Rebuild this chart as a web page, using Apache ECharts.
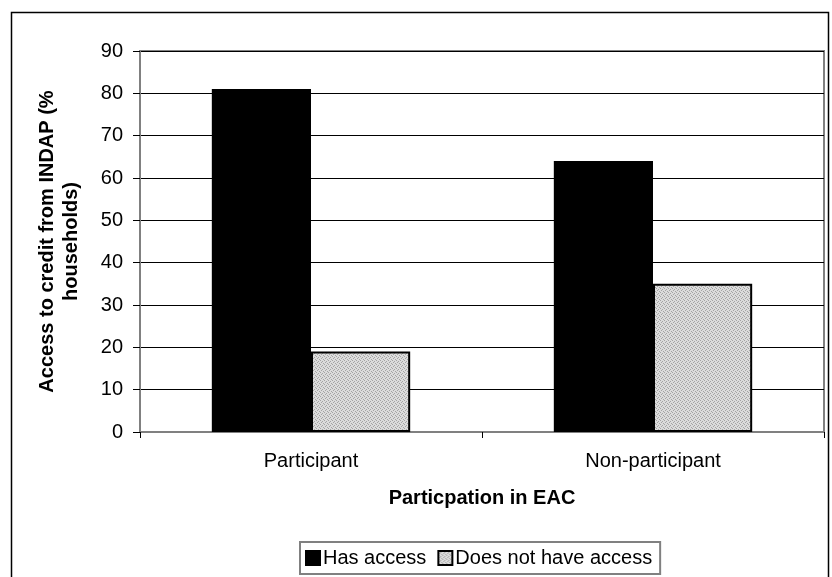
<!DOCTYPE html>
<html>
<head>
<meta charset="utf-8">
<script src="https://cdn.jsdelivr.net/npm/echarts@6/dist/echarts.min.js"></script>
<style>
  html, body { margin: 0; padding: 0; background: #fff; }
  #chart { width: 832px; height: 577px; }
</style>
</head>
<body>
<div id="chart"></div>
<script>
// Chart data
var categories = ['Participant', 'Non-participant'];
var hasAccess = [81, 64];
var noAccess = [19, 35];
var seriesNames = ['Has access', 'Does not have access'];
var yTitle = 'Access to credit from INDAP (%\nhouseholds)';
var xTitle = 'Particpation in EAC';

// Fine dotted gray fill
function dottedPattern() {
  var c = document.createElement('canvas');
  c.width = 4; c.height = 4;
  var g = c.getContext('2d');
  g.fillStyle = '#dcdcdc';
  g.fillRect(0, 0, 4, 4);
  g.fillStyle = '#a4a4a4';
  g.fillRect(0, 0, 1, 1);
  g.fillRect(2, 1, 1, 1);
  g.fillRect(1, 2, 1, 1);
  g.fillRect(3, 3, 1, 1);
  return c;
}

var font = '"Liberation Sans", Arial, sans-serif';
var chart = echarts.init(document.getElementById('chart'));
chart.setOption({
  animation: false,
  backgroundColor: '#fff',
  textStyle: { fontFamily: font, color: '#000' },
  graphic: [{
    type: 'rect',
    shape: { x: 11.5, y: 12.5, width: 817, height: 620 },
    style: { fill: null, stroke: '#000', lineWidth: 1.5 },
    silent: true,
    z: -1
  }, {
    type: 'text',
    x: 59, y: 241.5,
    rotation: Math.PI / 2,
    style: {
      text: yTitle,
      font: 'bold 20px ' + font,
      fill: '#000',
      align: 'center',
      verticalAlign: 'middle',
      lineHeight: 24
    }
  }],
  grid: { left: 140, right: 8, top: 51, bottom: 145, show: true, borderColor: '#808080', borderWidth: 2 },
  legend: {
    bottom: 3,
    left: 300,
    icon: 'rect',
    itemWidth: 14,
    itemHeight: 14,
    itemGap: 11,
    padding: [6, 8, 6, 5],
    borderColor: '#808080',
    borderWidth: 2,
    borderRadius: 0,
    textStyle: { fontSize: 20, fontFamily: font, color: '#000', padding: [0, 0, 0, -2] },
    data: seriesNames
  },
  xAxis: {
    type: 'category',
    data: categories,
    name: xTitle,
    nameLocation: 'middle',
    nameGap: 56,
    nameTextStyle: { fontSize: 20, fontWeight: 'bold', fontFamily: font, color: '#000' },
    axisLine: { lineStyle: { color: '#808080', width: 2 } },
    axisTick: { show: true, length: 6, lineStyle: { color: '#000' } },
    axisLabel: { fontSize: 20, color: '#000', margin: 19, fontFamily: font }
  },
  yAxis: {
    type: 'value',
    min: 0, max: 90, interval: 10,
    axisLine: { show: true, lineStyle: { color: '#808080', width: 2 } },
    axisTick: { show: true, length: 7, lineStyle: { color: '#000' } },
    axisLabel: { fontSize: 20, color: '#000', margin: 17, fontFamily: font },
    splitLine: { lineStyle: { color: '#000', width: 1 } }
  },
  series: [{
    name: seriesNames[0],
    type: 'bar',
    data: hasAccess,
    barGap: '0%',
    barCategoryGap: '42%',
    itemStyle: { color: '#000', borderColor: '#000', borderWidth: 2 }
  }, {
    name: seriesNames[1],
    type: 'bar',
    data: noAccess,
    barGap: '0%',
    barCategoryGap: '42%',
    itemStyle: { color: { image: dottedPattern(), repeat: 'repeat' }, borderColor: '#000', borderWidth: 2 }
  }]
});
</script>
</body>
</html>
